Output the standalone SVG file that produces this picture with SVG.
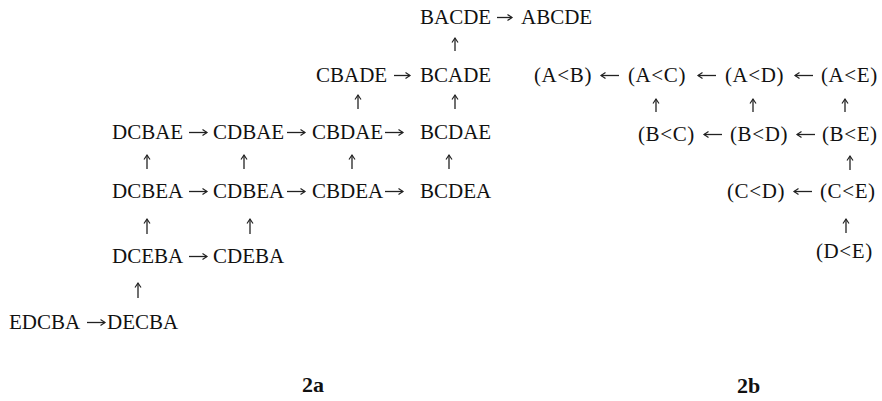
<svg xmlns="http://www.w3.org/2000/svg" width="882" height="401" viewBox="0 0 882 401">
<style>
text{font-family:"Liberation Serif","Times New Roman",serif;font-size:21px;fill:#111}
.p{letter-spacing:0.6px}
.lbl{font-weight:bold;font-size:22px}
#connectors path{fill:none;stroke:#222;stroke-width:1.3;marker-end:url(#ah)}
</style>
<defs>
<marker id="ah" viewBox="-6 -4 8 8" markerWidth="8" markerHeight="8" refX="0" refY="0" orient="auto" markerUnits="userSpaceOnUse">
<path d="M-4.5,-3 L0,0 L-4.5,3" fill="none" stroke="#222" stroke-width="1.2"/>
</marker>
</defs>
<rect width="882" height="401" fill="#fff"/>
<g id="nodes-2a">
<g id="BACDE"><text x="420" y="24">BACDE</text></g>
<g id="ABCDE"><text x="521" y="24">ABCDE</text></g>
<g id="CBADE"><text x="316" y="82">CBADE</text></g>
<g id="BCADE"><text x="420" y="82">BCADE</text></g>
<g id="DCBAE"><text x="112" y="139">DCBAE</text></g>
<g id="CDBAE"><text x="213" y="139">CDBAE</text></g>
<g id="CBDAE"><text x="312" y="139">CBDAE</text></g>
<g id="BCDAE"><text x="420" y="139">BCDAE</text></g>
<g id="DCBEA"><text x="112" y="198">DCBEA</text></g>
<g id="CDBEA"><text x="213" y="198">CDBEA</text></g>
<g id="CBDEA"><text x="312" y="198">CBDEA</text></g>
<g id="BCDEA"><text x="420" y="198">BCDEA</text></g>
<g id="DCEBA"><text x="112" y="263">DCEBA</text></g>
<g id="CDEBA"><text x="213" y="263">CDEBA</text></g>
<g id="EDCBA"><text x="9" y="329">EDCBA</text></g>
<g id="DECBA"><text x="107" y="329">DECBA</text></g>
</g>
<g id="nodes-2b">
<g id="AB"><text class="p" x="534" y="82">(A&lt;B)</text></g>
<g id="AC"><text class="p" x="628" y="82">(A&lt;C)</text></g>
<g id="AD"><text class="p" x="725" y="82">(A&lt;D)</text></g>
<g id="AE"><text class="p" x="821" y="82">(A&lt;E)</text></g>
<g id="BC"><text class="p" x="638" y="141">(B&lt;C)</text></g>
<g id="BD"><text class="p" x="730" y="141">(B&lt;D)</text></g>
<g id="BE"><text class="p" x="822" y="141">(B&lt;E)</text></g>
<g id="CD"><text class="p" x="727" y="198">(C&lt;D)</text></g>
<g id="CE"><text class="p" x="820" y="198">(C&lt;E)</text></g>
<g id="DE"><text class="p" x="816" y="258">(D&lt;E)</text></g>
</g>
<g id="connectors">
<path d="M497,17.5 H512"/>
<path d="M394,75.5 H410"/>
<path d="M189,132.5 H207"/>
<path d="M287,132.5 H305"/>
<path d="M385,132.5 H403"/>
<path d="M189,191.5 H207"/>
<path d="M287,191.5 H305"/>
<path d="M385,191.5 H403"/>
<path d="M189,256.5 H207"/>
<path d="M87,322.5 H105"/>
<path d="M455,51 V38"/>
<path d="M358,109 V95"/>
<path d="M455,109 V95"/>
<path d="M147,169 V155"/>
<path d="M244,169 V155"/>
<path d="M352,169 V155"/>
<path d="M449,169 V155"/>
<path d="M147,234 V219"/>
<path d="M250,234 V219"/>
<path d="M138,298 V283"/>
<path d="M619,75.5 H601"/>
<path d="M716,75.5 H698"/>
<path d="M813,75.5 H795"/>
<path d="M722,134.5 H704"/>
<path d="M815,134.5 H797"/>
<path d="M812,191.5 H794"/>
<path d="M656,112 V99"/>
<path d="M753,112 V99"/>
<path d="M845,112 V99"/>
<path d="M850,170 V156"/>
<path d="M846,233 V219"/>
</g>
<g id="labels">
<text class="lbl" x="302" y="392">2a</text>
<text class="lbl" x="737" y="393">2b</text>
</g>
</svg>
